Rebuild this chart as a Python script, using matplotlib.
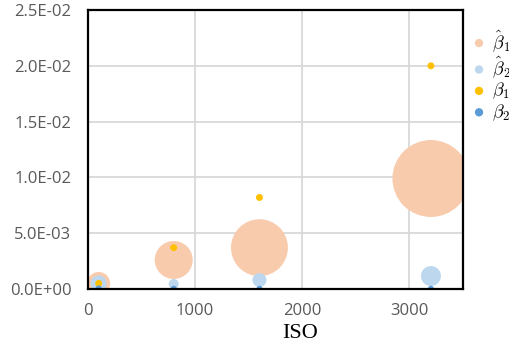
import numpy as np
import matplotlib.pyplot as plt
from matplotlib.ticker import FuncFormatter

iso = [100, 800, 1600, 3200]

# estimated values and their bubble sizes
beta1_hat = [0.0005, 0.0026, 0.0037, 0.0099]
beta1_hat_size = [130, 360, 810, 1480]
beta2_hat = [0.0005, 0.00045, 0.0008, 0.00116]
beta2_hat_size = [64, 25, 49, 100]

# reference values
beta1 = [0.0005, 0.0037, 0.0082, 0.0200]
beta2 = [0.00005, 0.00002, 0.00002, 0.00002]

plt.rcParams['mathtext.fontset'] = 'cm'

fig = plt.figure(figsize=(5.10, 3.49), dpi=100)
ax = fig.add_axes([0.1725, 0.172, 0.7355, 0.7993])

px = 0.72  # points per pixel at 100 dpi
def area(sz):
    # bubble area proportional to size value
    r = np.sqrt(np.array(sz, dtype=float))
    return (2 * r * px) ** 2

ax.scatter(iso, beta1_hat, s=area(beta1_hat_size), color='#F8CBAD',
           edgecolors='none', label=r'$\hat{\beta}_1$', zorder=3)
ax.scatter(iso, beta2_hat, s=area(beta2_hat_size), color='#BDD7EE',
           edgecolors='none', label=r'$\hat{\beta}_2$', zorder=4)
ax.scatter(iso, beta1, s=area([12] * 4), color='#FFC000',
           edgecolors='none', label=r'$\beta_1$', zorder=5)
ax.scatter(iso, beta2, s=area([9] * 4), color='#5B9BD5',
           edgecolors='none', label=r'$\beta_2$', zorder=6)

ax.set_xlim(0, 3500)
ax.set_ylim(0, 0.025)
ax.set_xticks([0, 1000, 2000, 3000])
ax.set_yticks(np.arange(0, 0.0251, 0.005))
ax.yaxis.set_major_formatter(FuncFormatter(lambda v, p: f"{v:.1E}"))
ax.grid(True, color='#D9D9D9', linewidth=1.3, zorder=0)
ax.set_axisbelow(True)
ax.tick_params(length=0, labelsize=12, labelcolor='#595959')
ax.tick_params(axis='x', pad=10)
ax.tick_params(axis='y', pad=12)
for lab in ax.get_xticklabels() + ax.get_yticklabels():
    lab.set_family('Open Sans')
for sp in ax.spines.values():
    sp.set_linewidth(1.6)
    sp.set_color('black')
    sp.set_zorder(10)

ax.set_xlabel('ISO', fontsize=16, family='Liberation Serif')
ax.xaxis.set_label_coords(0.565, -0.125)

leg = fig.legend(loc='upper left', bbox_to_anchor=(470 / 510, 1 - 28 / 349),
                 frameon=False, fontsize=13, handletextpad=0.2,
                 labelspacing=0.05, handlelength=1.0, borderpad=0,
                 borderaxespad=0)
for h in leg.legend_handles:
    h.set_sizes([36])

fig.savefig('out.png', dpi=100)
